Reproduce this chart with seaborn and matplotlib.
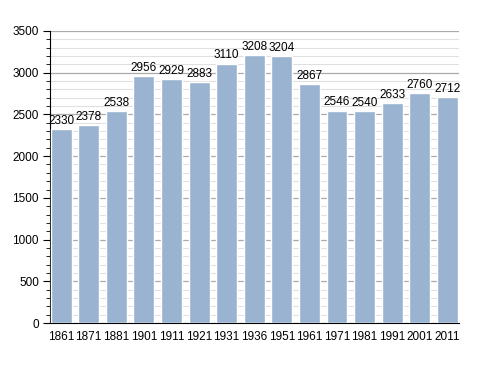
import matplotlib
matplotlib.use("Agg")
from matplotlib import pyplot as plt
from matplotlib.ticker import MultipleLocator
import seaborn as sns
import pandas as pd

years = ["1861", "1871", "1881", "1901", "1911", "1921", "1931", "1936",
         "1951", "1961", "1971", "1981", "1991", "2001", "2011"]
population = [2330, 2378, 2538, 2956, 2929, 2883, 3110, 3208,
              3204, 2867, 2546, 2540, 2633, 2760, 2712]

df = pd.DataFrame({"year": years, "population": population})

sns.set_style("white")
plt.rcParams["font.family"] = ["Liberation Sans", "DejaVu Sans"]
plt.rcParams["text.color"] = "black"
plt.rcParams["xtick.color"] = "black"
plt.rcParams["ytick.color"] = "black"

fig = plt.figure(figsize=(4.88, 3.73), dpi=100)
ax = fig.add_axes([0.1025, 0.134, 0.838, 0.783])

sns.barplot(data=df, x="year", y="population", color="#9ab3d0",
            saturation=1, width=0.76, ax=ax, zorder=3)

ax.set_ylim(0, 3500)
ax.set_xlim(-0.40, len(years) - 0.58)
ax.yaxis.set_major_locator(MultipleLocator(500))
ax.yaxis.set_minor_locator(MultipleLocator(100))
ax.grid(which="major", axis="y", color="#aaaaaa", lw=0.9, zorder=0)
ax.grid(which="minor", axis="y", color="#e0e0e0", lw=0.8, zorder=0)
ax.set_axisbelow(True)

for s in ["top", "right"]:
    ax.spines[s].set_visible(False)
ax.spines["left"].set_color("black")
ax.spines["bottom"].set_color("black")

ax.tick_params(axis="y", which="major", left=True, length=5, width=0.8,
               labelsize=8.5, pad=3)
ax.tick_params(axis="y", which="minor", left=True, length=3, width=0.6)
ax.tick_params(axis="x", bottom=False, labelsize=8.5, pad=2)
ax.set_xlabel(None)
ax.set_ylabel(None)

# value labels above bars
for i, v in enumerate(population):
    ax.annotate(str(v), xy=(i, v), xytext=(0, 1.5), textcoords="offset points",
                ha="center", va="bottom", fontsize=8.5)

fig.savefig("out.png", dpi=100)
